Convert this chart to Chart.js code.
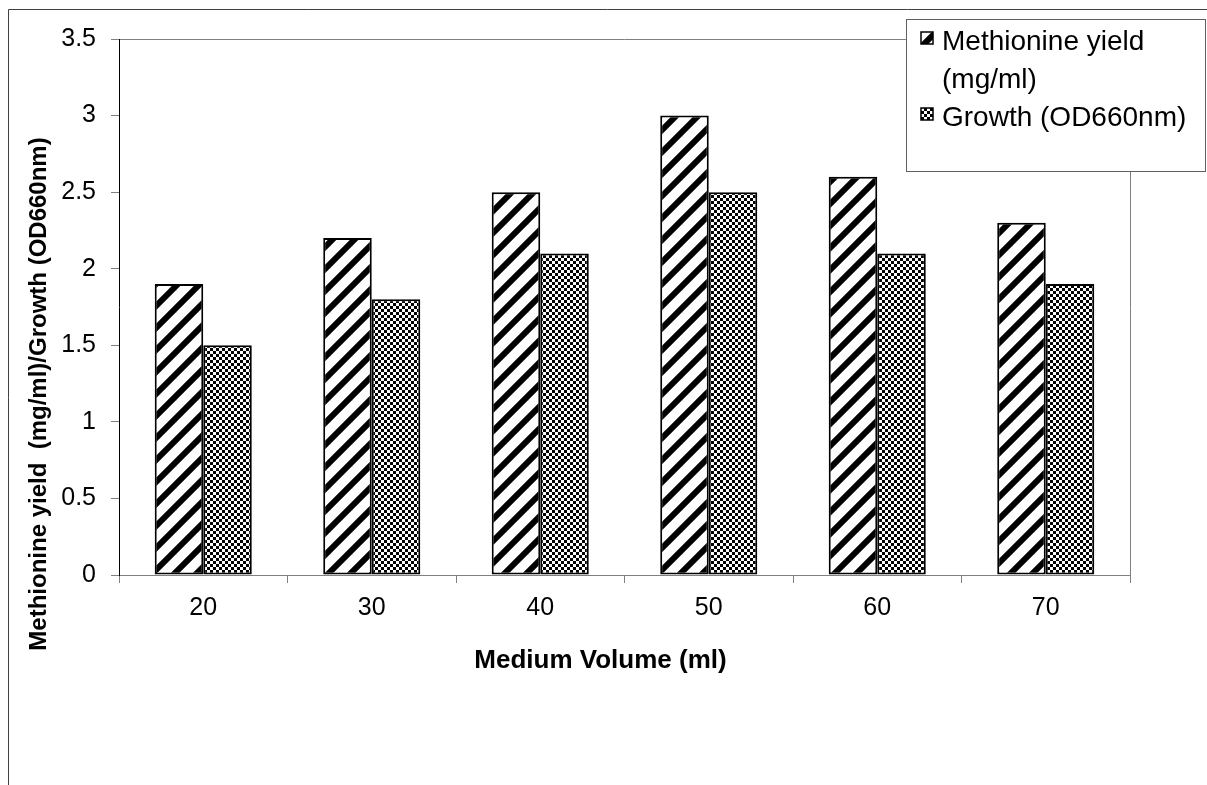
<!DOCTYPE html>
<html><head><meta charset="utf-8">
<script src="https://cdn.jsdelivr.net/npm/chart.js@4/dist/chart.umd.min.js"></script>
<style>html,body{margin:0;padding:0;background:#fff;overflow:hidden}canvas{display:block}</style>
</head><body>
<canvas id="c" width="1207" height="785"></canvas>
<script>
const categories = ['20', '30', '40', '50', '60', '70'];
const methionineYield = [1.9, 2.2, 2.5, 3.0, 2.6, 2.3];
const growth = [1.5, 1.8, 2.1, 2.5, 2.1, 1.9];
const seriesLabels = [['Methionine yield', '(mg/ml)'], ['Growth (OD660nm)']];
const yTickLabels = ['0', '0.5', '1', '1.5', '2', '2.5', '3', '3.5'];
const xTitle = 'Medium Volume (ml)';
const yTitle = 'Methionine yield  (mg/ml)/Growth (OD660nm)';

const FONT = '"Liberation Sans", Arial, sans-serif';

function hatchPattern() {
  const s = 22, c = document.createElement('canvas');
  c.width = s; c.height = s;
  const g = c.getContext('2d');
  g.fillStyle = '#fff'; g.fillRect(0, 0, s, s);
  g.strokeStyle = '#000'; g.lineWidth = 6;
  for (const o of [-s, 0, s]) {
    g.beginPath(); g.moveTo(o - 3, s + 3); g.lineTo(o + s + 3, -3); g.stroke();
  }
  return g.createPattern(c, 'repeat');
}
function checkerPattern() {
  const s = 6, c = document.createElement('canvas');
  c.width = s; c.height = s;
  const g = c.getContext('2d');
  g.fillStyle = '#fff'; g.fillRect(0, 0, s, s);
  g.fillStyle = '#000';
  g.fillRect(0, 0, 3, 3); g.fillRect(3, 3, 3, 3);
  return g.createPattern(c, 'repeat');
}
const fills = [hatchPattern(), checkerPattern()];

const framePlugin = {
  id: 'frame',
  beforeDraw(chart) {
    const ctx = chart.ctx, a = chart.chartArea;
    ctx.save();
    ctx.strokeStyle = '#404040'; ctx.lineWidth = 1;
    ctx.beginPath(); ctx.moveTo(8.5, chart.height); ctx.lineTo(8.5, 9.5); ctx.lineTo(chart.width, 9.5); ctx.stroke();
    ctx.strokeStyle = '#808080';
    ctx.beginPath(); ctx.moveTo(a.left, Math.round(a.top) + 0.5); ctx.lineTo(Math.round(a.right) + 0.5, Math.round(a.top) + 0.5);
    ctx.lineTo(Math.round(a.right) + 0.5, a.bottom); ctx.stroke();
    ctx.restore();
  },
  afterDraw(chart) {
    const ctx = chart.ctx, a = chart.chartArea;
    ctx.save();
    // axis titles
    ctx.fillStyle = '#000';
    ctx.textAlign = 'center'; ctx.textBaseline = 'middle';
    ctx.font = 'bold 26px ' + FONT;
    ctx.fillText(xTitle, (a.left + a.right) / 2 - 24, a.bottom + 86);
    ctx.save();
    ctx.translate(39, (a.top + a.bottom) / 2 + 87);
    ctx.rotate(-Math.PI / 2);
    ctx.font = 'bold 24px ' + FONT;
    ctx.fillText(yTitle, 0, 0);
    ctx.restore();
    // legend
    const x0 = chart.width - 301, y0 = 19, w = 299, h = 152;
    ctx.fillStyle = '#fff'; ctx.fillRect(x0, y0, w, h);
    ctx.strokeStyle = '#606060'; ctx.lineWidth = 1;
    ctx.strokeRect(x0 + 0.5, y0 + 0.5, w, h);
    ctx.font = '28px ' + FONT; ctx.textAlign = 'left'; ctx.textBaseline = 'alphabetic';
    const lineGap = 38;
    let base = y0 + 31;
    chart.data.datasets.forEach((ds, i) => {
      const lines = seriesLabels[i];
      ctx.fillStyle = ds.backgroundColor;
      ctx.fillRect(x0 + 15, base - 18, 12, 12);
      ctx.strokeStyle = '#000'; ctx.lineWidth = 1.5;
      ctx.strokeRect(x0 + 15, base - 18, 12, 12);
      ctx.fillStyle = '#000';
      lines.forEach((t) => { ctx.fillText(t, x0 + 36, base); base += lineGap; });
    });
    ctx.restore();
  }
};

new Chart(document.getElementById('c'), {
  type: 'bar',
  data: {
    labels: categories,
    datasets: [
      { label: seriesLabels[0].join(' '), data: methionineYield, backgroundColor: fills[0], borderColor: '#000', borderWidth: 2, borderSkipped: false },
      { label: seriesLabels[1].join(' '), data: growth, backgroundColor: fills[1], borderColor: '#000', borderWidth: 2, borderSkipped: false }
    ]
  },
  options: {
    responsive: false,
    animation: false,
    events: [],
    layout: { padding: { top: 39, right: 77, left: 0, bottom: 0 } },
    datasets: { bar: { categoryPercentage: 0.576, barPercentage: 1 } },
    plugins: { legend: { display: false }, tooltip: { enabled: false } },
    scales: {
      x: {
        afterFit(s) { s.height = 210; },
        grid: { display: true, drawOnChartArea: false, drawTicks: true, tickLength: 8, color: '#808080', offset: true },
        border: { display: true, color: '#808080', width: 1 },
        ticks: { color: '#000', font: { family: FONT, size: 25 }, padding: 10, maxRotation: 0 }
      },
      y: {
        min: 0, max: 3.5,
        afterFit(s) { s.width = 119; },
        ticks: { stepSize: 0.5, color: '#000', font: { family: FONT, size: 25 }, padding: 15,
          callback: (v) => yTickLabels[Math.round(v / 0.5)] },
        grid: { display: true, drawOnChartArea: false, drawTicks: true, tickLength: 8, color: '#808080' },
        border: { display: true, color: '#000', width: 1 }
      }
    }
  },
  plugins: [framePlugin]
});
</script>
</body></html>
